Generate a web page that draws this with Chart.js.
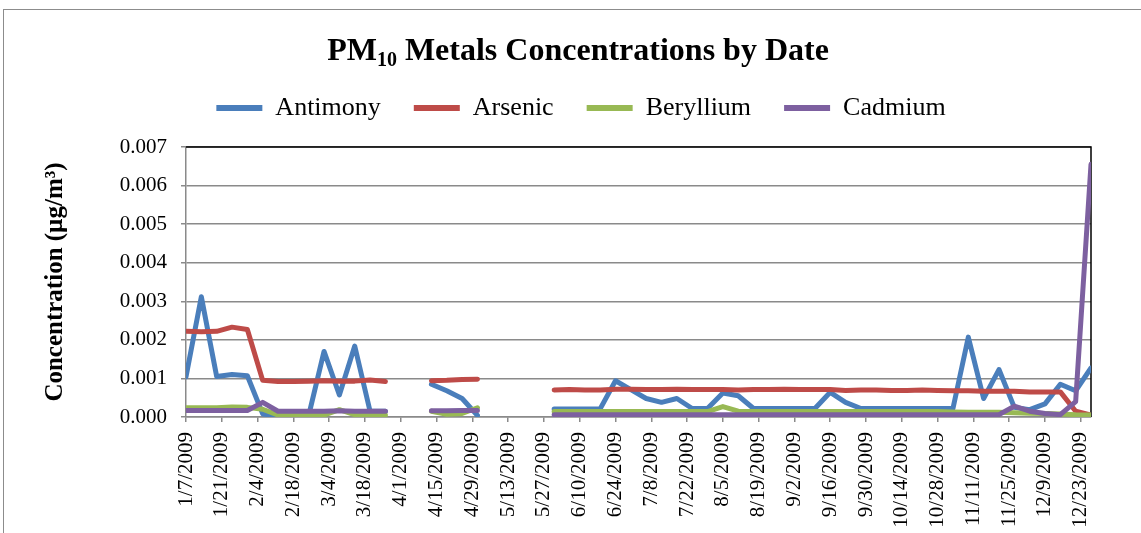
<!DOCTYPE html>
<html>
<head>
<meta charset="utf-8">
<script src="https://cdn.jsdelivr.net/npm/chart.js@4/dist/chart.umd.min.js"></script>
<style>
html,body{margin:0;padding:0;background:#fff;}
#wrap{position:relative;width:1141px;height:533px;overflow:hidden;background:#fff;}
#frame{position:absolute;left:3px;top:9px;width:1200px;height:600px;border:1.5px solid #8c8c8c;pointer-events:none;}
canvas{position:absolute;left:0;top:0;}
</style>
</head>
<body>
<div id="wrap"><canvas id="c" width="1141" height="533"></canvas><div id="frame"></div></div>
<script>
// ---- data ----
const sampleDates = ['1/7/2009','1/13/2009','1/19/2009','1/25/2009','1/31/2009','2/6/2009','2/12/2009','2/18/2009','2/24/2009','3/2/2009',
 '3/8/2009','3/14/2009','3/20/2009','3/26/2009','4/1/2009','4/7/2009','4/13/2009','4/19/2009','4/25/2009','5/1/2009',
 '5/7/2009','5/13/2009','5/19/2009','5/25/2009','5/31/2009','6/6/2009','6/12/2009','6/18/2009','6/24/2009','6/30/2009',
 '7/6/2009','7/12/2009','7/18/2009','7/24/2009','7/30/2009','8/5/2009','8/11/2009','8/17/2009','8/23/2009','8/29/2009',
 '9/4/2009','9/10/2009','9/16/2009','9/22/2009','9/28/2009','10/4/2009','10/10/2009','10/16/2009','10/22/2009','10/28/2009',
 '11/3/2009','11/9/2009','11/15/2009','11/21/2009','11/27/2009','12/3/2009','12/9/2009','12/15/2009','12/21/2009','12/27/2009'];

const tickLabels = ['1/7/2009','1/21/2009','2/4/2009','2/18/2009','3/4/2009','3/18/2009','4/1/2009','4/15/2009','4/29/2009',
 '5/13/2009','5/27/2009','6/10/2009','6/24/2009','7/8/2009','7/22/2009','8/5/2009','8/19/2009','9/2/2009','9/16/2009',
 '9/30/2009','10/14/2009','10/28/2009','11/11/2009','11/25/2009','12/9/2009','12/23/2009'];

const antimony = [0.00104,0.00312,0.00105,0.00110,0.00107,0.00008,0.00002,0.00002,0.00004,0.00170,
 0.00057,0.00184,0.00015,0.00015,null,null,0.00085,0.00068,0.00048,0.00004,
 null,null,null,null,0.00021,0.00021,0.00021,0.00021,0.00094,0.00071,
 0.00048,0.00038,0.00048,0.00022,0.00022,0.00062,0.00055,0.00022,0.00022,0.00022,
 0.00022,0.00022,0.00064,0.00038,0.00022,0.00022,0.00022,0.00022,0.00022,0.00022,
 0.00022,0.00207,0.00048,0.00123,0.00025,0.00019,0.00034,0.00085,0.00068,0.00127];

const arsenic = [0.00222,0.00221,0.00222,0.00233,0.00227,0.00095,0.00092,0.00092,0.00093,0.00094,
 0.00093,0.00093,0.00096,0.00092,null,null,0.00094,0.00095,0.00097,0.00098,
 null,null,null,null,0.00070,0.00071,0.00070,0.00070,0.00072,0.00072,
 0.00071,0.00071,0.00072,0.00071,0.00071,0.00071,0.00070,0.00071,0.00071,0.00072,
 0.00071,0.00071,0.00071,0.00069,0.00070,0.00070,0.00069,0.00069,0.00070,0.00069,
 0.00068,0.00068,0.00067,0.00067,0.00067,0.00065,0.00065,0.00065,0.00015,0.00005];

const beryllium = [0.00024,0.00024,0.00024,0.00026,0.00025,0.00020,0.00005,0.00005,0.00005,0.00005,
 0.00019,0.00006,0.00005,0.00005,null,null,0.00015,0.00007,0.00009,0.00024,
 null,null,null,null,0.00014,0.00014,0.00014,0.00014,0.00014,0.00014,
 0.00014,0.00014,0.00014,0.00014,0.00014,0.00027,0.00015,0.00014,0.00014,0.00014,
 0.00014,0.00014,0.00014,0.00014,0.00014,0.00014,0.00014,0.00014,0.00014,0.00014,
 0.00013,0.00012,0.00012,0.00012,0.00011,0.00010,0.00009,0.00008,0.00006,0.00005];

const cadmium = [0.00017,0.00017,0.00017,0.00017,0.00017,0.00038,0.00015,0.00015,0.00015,0.00015,
 0.00016,0.00015,0.00015,0.00015,null,null,0.00016,0.00016,0.00017,0.00017,
 null,null,null,null,0.00006,0.00006,0.00006,0.00006,0.00006,0.00006,
 0.00006,0.00006,0.00006,0.00006,0.00006,0.00006,0.00006,0.00006,0.00006,0.00006,
 0.00006,0.00006,0.00006,0.00006,0.00006,0.00006,0.00006,0.00006,0.00006,0.00006,
 0.00006,0.00006,0.00006,0.00006,0.00028,0.00015,0.00009,0.00006,0.00040,0.00655];

const seriesNames = ['Antimony','Arsenic','Beryllium','Cadmium'];
const seriesColors = ['#4A7EBB','#BE4B48','#98B954','#7D60A0'];

// ---- helpers ----
const day0 = Date.UTC(2009,0,7);
function dayOf(s){const [m,d,y]=s.split('/').map(Number);return Math.round((Date.UTC(y,m-1,d)-day0)/86400000);}
const xs = sampleDates.map(dayOf);
const toPts = arr => arr.map((v,i)=>({x:xs[i],y:v}));
const tickMap = {};
tickLabels.forEach(s=>{tickMap[dayOf(s)]=s;});

const FONT = '"Liberation Serif", "Times New Roman", serif';
const seriesValues = [antimony, arsenic, beryllium, cadmium];

const datasets = seriesValues.map((arr,i)=>({
  label: seriesNames[i],
  data: toPts(arr),
  borderColor: seriesColors[i],
  backgroundColor: seriesColors[i],
  borderWidth: 5,
  pointRadius: 0,
  pointHoverRadius: 0,
  tension: 0,
  spanGaps: false,
  borderCapStyle: 'round',
  borderJoinStyle: 'round',
  order: 4 - i,
  yAxisID: 'y'
}));

const deco = {
  id: 'deco',
  beforeDatasetsDraw(chart){
    const {ctx, chartArea:a} = chart;
    ctx.save();
    ctx.strokeStyle = '#000';
    ctx.lineWidth = 1.5;
    ctx.beginPath();
    ctx.moveTo(a.left, a.top);
    ctx.lineTo(a.right, a.top);
    ctx.lineTo(a.right, a.bottom);
    ctx.stroke();
    ctx.restore();
  },
  afterDraw(chart){
    const ctx = chart.ctx;
    ctx.save();
    ctx.fillStyle = '#000';
    ctx.textAlign = 'left';
    ctx.textBaseline = 'alphabetic';
    const big = 'bold 32px ' + FONT, small = 'bold 20px ' + FONT;
    const p1 = 'PM', p2 = '10', p3 = ' Metals Concentrations by Date';
    ctx.font = big; const w1 = ctx.measureText(p1).width, w3 = ctx.measureText(p3).width;
    ctx.font = small; const w2 = ctx.measureText(p2).width;
    let x = 578 - (w1 + w2 + w3) / 2; const y = 60;
    ctx.font = big; ctx.fillText(p1, x, y); x += w1;
    ctx.font = small; ctx.fillText(p2, x, y + 6); x += w2;
    ctx.font = big; ctx.fillText(p3, x, y);
    ctx.restore();
  }
};

new Chart(document.getElementById('c'), {
  type: 'line',
  data: { datasets },
  options: {
    responsive: false,
    animation: false,
    events: [],
    layout: { padding: { top: 62, left: 21, right: 0, bottom: 0 } },
    plugins: {
      title: { display: true, text: '', weight: 500, padding: 0, font: { size: 16, lineHeight: 1 } },
      tooltip: { enabled: false },
      legend: {
        position: 'top',
        labels: {
          font: { family: FONT, size: 26 },
          color: '#000',
          boxWidth: 46,
          boxHeight: 6,
          padding: 33,
          generateLabels(chart){
            return chart.data.datasets.map((ds,i)=>({
              text: ds.label, fillStyle: ds.borderColor, strokeStyle: ds.borderColor,
              lineWidth: 0, hidden: false, datasetIndex: i, fontColor: '#000'
            }));
          }
        }
      }
    },
    scales: {
      x: {
        type: 'linear',
        min: 0,
        max: xs[xs.length-1],
        afterBuildTicks: s => { s.ticks = tickLabels.map(t=>({value: dayOf(t)})); },
        afterFit: s => { s.height = 116; },
        ticks: {
          autoSkip: false, maxRotation: 90, minRotation: 90, padding: 10,
          color: '#000', font: { family: FONT, size: 21 },
          callback: v => tickMap[v] || ''
        },
        grid: { drawOnChartArea: false, drawTicks: true, tickLength: 5, color: '#8a8a8a', lineWidth: 1.5 },
        border: { display: true, color: '#8a8a8a', width: 1.5 }
      },
      y: {
        position: 'left',
        min: 0, max: 0.007,
        afterFit: s => { s.width = 165; },
        ticks: {
          stepSize: 0.001, padding: 14, color: '#000',
          font: { family: FONT, size: 21 },
          callback: v => Number(v).toFixed(3)
        },
        grid: { color: '#8a8a8a', lineWidth: 1.5, tickLength: 5, drawTicks: true },
        border: { display: true, color: '#8a8a8a', width: 1.5 },
        title: {
          display: true, text: 'Concentration (µg/m³)', color: '#000',
          font: { family: FONT, size: 25, weight: 'bold' },
          padding: { top: 20, bottom: 0 }
        }
      },
      yR: {
        type: 'linear', position: 'right', display: true,
        grid: { display: false, drawTicks: false },
        border: { display: false },
        ticks: { display: false },
        afterFit: s => { s.width = 50; }
      }
    }
  },
  plugins: [deco]
});
</script>
</body>
</html>
